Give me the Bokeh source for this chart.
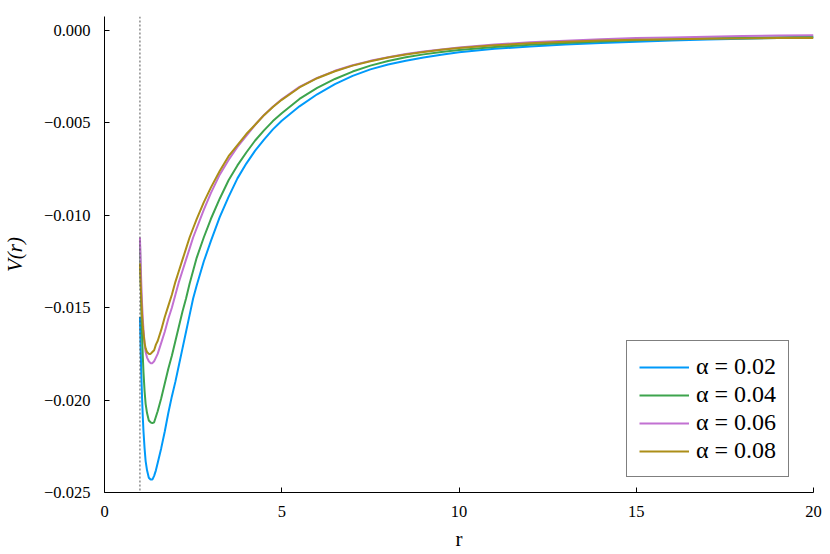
from bokeh.plotting import figure
from bokeh.models import Span, Legend, LegendItem, FixedTicker
from bokeh.embed import file_html
from bokeh.resources import INLINE

# ---- data ----
r = [1.0, 1.02, 1.04, 1.06, 1.08, 1.1, 1.13, 1.16, 1.2, 1.25, 1.3, 1.35, 1.4,
     1.45, 1.5, 1.6, 1.7, 1.8, 1.9, 2.0, 2.1, 2.2, 2.3, 2.4, 2.5, 2.6, 2.8,
     3.0, 3.25, 3.5, 3.75, 4.0, 4.25, 4.5, 4.75, 5.0, 5.5, 6.0, 6.5, 7.0, 7.5,
     8.0, 8.5, 9.0, 9.5, 10.0, 11.0, 12.0, 13.0, 14.0, 15.0, 16.0, 17.0, 18.0,
     19.0, 20.0]

v_002 = [-0.0155, -0.0172, -0.0187, -0.0199, -0.0209, -0.0217, -0.0226, -0.0233,
         -0.0238, -0.0242, -0.0243, -0.0243, -0.0241, -0.0238, -0.0234, -0.0226,
         -0.0217, -0.0207, -0.0198, -0.0190, -0.0181, -0.0172, -0.0163, -0.0154,
         -0.0145, -0.0138, -0.0125, -0.0114, -0.0101, -0.0090, -0.0080, -0.0072,
         -0.0065, -0.0059, -0.00535, -0.00488, -0.0041, -0.00345, -0.0029,
         -0.00245, -0.0021, -0.00184, -0.00163, -0.00146, -0.00131, -0.00118,
         -0.00099, -0.00087, -0.00076, -0.00067, -0.00060, -0.00054, -0.00049,
         -0.00044, -0.00040, -0.00036]

v_004 = [-0.0114, -0.0134, -0.0151, -0.0165, -0.0176, -0.0185, -0.0195, -0.0202,
         -0.0207, -0.0211, -0.0212, -0.02125, -0.0212, -0.0209, -0.0206, -0.0199,
         -0.0191, -0.0183, -0.0176, -0.0168, -0.0160, -0.0152, -0.0145, -0.0137,
         -0.0130, -0.0123, -0.0112, -0.0102, -0.0091, -0.0081, -0.0073, -0.0066,
         -0.00595, -0.0054, -0.0049, -0.00448, -0.0037, -0.0031, -0.00262,
         -0.00222, -0.0019, -0.00165, -0.00145, -0.00129, -0.00116, -0.00105,
         -0.00089, -0.00077, -0.00067, -0.00059, -0.00052, -0.00047, -0.00042,
         -0.00039, -0.00036, -0.00033]

v_006 = [-0.0112, -0.0126, -0.0138, -0.0148, -0.0156, -0.0162, -0.0169, -0.0174,
         -0.0177, -0.0179, -0.0180, -0.0180, -0.0179, -0.0177, -0.0175, -0.0169,
         -0.0163, -0.0156, -0.0150, -0.0143, -0.0136, -0.0130, -0.0124, -0.0118,
         -0.0112, -0.0107, -0.0097, -0.0088, -0.0078, -0.0070, -0.0063, -0.0057,
         -0.0051, -0.00457, -0.00412, -0.00372, -0.00305, -0.00256, -0.00218,
         -0.00188, -0.00164, -0.00144, -0.00127, -0.00114, -0.00102, -0.00092,
         -0.00076, -0.00064, -0.00055, -0.00047, -0.00041, -0.00037, -0.00033,
         -0.00030, -0.00027, -0.00025]

v_008 = [-0.0126, -0.0137, -0.0146, -0.0154, -0.0160, -0.0164, -0.0169, -0.0172,
         -0.0174, -0.0175, -0.0175, -0.0174, -0.0173, -0.0170, -0.0168, -0.0162,
         -0.0155, -0.0149, -0.0143, -0.0136, -0.0130, -0.0124, -0.0118, -0.0112,
         -0.0107, -0.0102, -0.0093, -0.0085, -0.0076, -0.0068, -0.0062, -0.0056,
         -0.0051, -0.00458, -0.00414, -0.00375, -0.00308, -0.00258, -0.0022,
         -0.0019, -0.00166, -0.00146, -0.0013, -0.00116, -0.00104, -0.00094,
         -0.0008, -0.00069, -0.0006, -0.00054, -0.0005, -0.00047, -0.00045,
         -0.00043, -0.00041, -0.0004]

labels = ["α = 0.02", "α = 0.04", "α = 0.06", "α = 0.08"]
colors = ["#009AFA", "#3DA44D", "#C271D2", "#AC8E18"]
series = [v_002, v_004, v_006, v_008]

x_ticks = [0, 5, 10, 15, 20]
y_ticks = [0.0, -0.005, -0.010, -0.015, -0.020, -0.025]
y_tick_labels = ["0.000", "−0.005", "−0.010", "−0.015", "−0.020", "−0.025"]
r_wall = 1.0

FONT = "Liberation Serif"

p = figure(width=830, height=554, output_backend="svg", toolbar_location=None,
           x_range=(0, 20), y_range=(-0.025, 0.00076),
           min_border_left=104, min_border_right=17, min_border_top=16,
           min_border_bottom=62)
p.outline_line_color = None
p.xgrid.visible = False
p.ygrid.visible = False

span = Span(location=r_wall, dimension="height", line_color="#555555",
            line_dash="2 2", line_width=1)
p.add_layout(span)

items = []
for lab, col, vals in zip(labels, colors, series):
    gl = p.line(r, vals, line_color=col, line_width=2)
    items.append(LegendItem(label=lab, renderers=[gl]))

legend = Legend(items=items, location=(522, 15), padding=12, spacing=1,
                glyph_width=50, glyph_height=26, label_height=26,
                label_standoff=7, label_text_font=FONT,
                label_text_font_size="24px", border_line_color="black",
                border_line_width=1, background_fill_alpha=1,
                label_text_color="black")
p.add_layout(legend)

for ax in (p.xaxis[0], p.yaxis[0]):
    ax.major_tick_in = 5
    ax.major_tick_out = 0
    ax.minor_tick_line_color = None
    ax.axis_line_color = "black"
    ax.major_tick_line_color = "black"
    ax.major_label_text_font = FONT
    ax.major_label_text_font_size = "16.5px"
    ax.major_label_text_color = "black"
    ax.axis_label_text_font = FONT
    ax.axis_label_text_font_size = "21px"
    ax.axis_label_text_color = "black"

p.xaxis.ticker = FixedTicker(ticks=x_ticks)
p.yaxis.ticker = FixedTicker(ticks=y_ticks)
p.yaxis.major_label_overrides = {t: s for t, s in zip(y_ticks, y_tick_labels)}
p.xaxis.axis_label = "r"
p.xaxis.axis_label_text_font_style = "normal"
p.yaxis.axis_label = "V(r)"
p.yaxis.axis_label_text_font_style = "italic"
p.xaxis.major_label_standoff = 13
p.yaxis.major_label_standoff = 14
p.xaxis.axis_label_standoff = 7
p.yaxis.axis_label_standoff = 14

open("out.html", "w").write(file_html(p, INLINE))
